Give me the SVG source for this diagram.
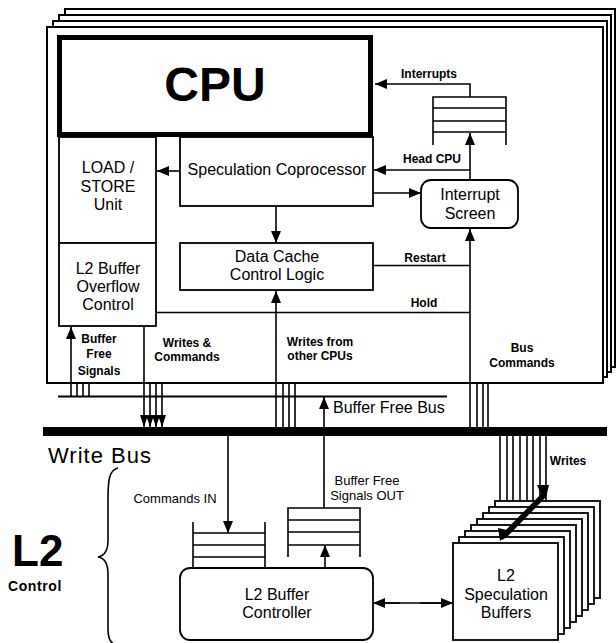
<svg xmlns="http://www.w3.org/2000/svg" width="616" height="643" viewBox="0 0 616 643">
<style>
  .box{fill:#fff;stroke:#000;stroke-width:1.8}
  .ln{fill:none;stroke:#000;stroke-width:1.6}
  .frm{fill:#fff;stroke:#000;stroke-width:2}
  .t{font-family:"Liberation Sans",Arial,sans-serif;font-size:16px;fill:#000;text-anchor:middle}
  .s{font-family:"Liberation Sans",Arial,sans-serif;font-size:12px;font-weight:bold;fill:#000;text-anchor:middle}
  .r{font-family:"Liberation Sans",Arial,sans-serif;font-size:13px;fill:#000;text-anchor:middle}
  .a{marker-end:url(#ah)}
</style>
<defs>
  <marker id="ah" viewBox="0 0 12 10" refX="12" refY="5" markerWidth="12" markerHeight="10" markerUnits="userSpaceOnUse" orient="auto">
    <path d="M0,0 L12,5 L0,10 z" fill="#000"/>
  </marker>
  <marker id="as" viewBox="0 0 12 8" refX="12" refY="4" markerWidth="12" markerHeight="8" markerUnits="userSpaceOnUse" orient="auto">
    <path d="M0,0 L12,4 L0,8 z" fill="#000"/>
  </marker>
</defs>

<g id="cpu-frames">
  <rect class="frm" x="65" y="9" width="550" height="358"/>
  <rect class="frm" x="59" y="15" width="552" height="357"/>
  <rect class="frm" x="53" y="21" width="554" height="356"/>
  <rect class="frm" x="47" y="27" width="556" height="356"/>
</g>

<g id="cpu">
  <rect x="59.5" y="37.5" width="311" height="97" fill="#fff" stroke="#000" stroke-width="5"/>
  <text x="215" y="101" font-family="Liberation Sans,Arial,sans-serif" font-size="48" font-weight="bold" text-anchor="middle">CPU</text>
</g>

<g id="load-store">
  <rect class="box" x="59" y="137" width="97" height="106"/>
  <text class="t" x="108" y="173">LOAD /</text>
  <text class="t" x="108" y="192">STORE</text>
  <text class="t" x="108" y="210">Unit</text>
</g>

<g id="l2-overflow">
  <rect class="box" x="59" y="243" width="97" height="83"/>
  <text class="t" x="108" y="274">L2 Buffer</text>
  <text class="t" x="108" y="292">Overflow</text>
  <text class="t" x="108" y="310">Control</text>
</g>

<g id="spec-coproc">
  <rect class="box" x="180" y="137" width="193" height="69"/>
  <text class="t" x="277" y="175">Speculation Coprocessor</text>
</g>

<g id="data-cache">
  <rect class="box" x="180" y="243" width="193" height="47"/>
  <text class="t" x="277" y="262">Data Cache</text>
  <text class="t" x="277" y="280">Control Logic</text>
</g>

<g id="interrupt-screen">
  <rect class="box" x="421" y="180" width="97" height="48" rx="10"/>
  <text class="t" x="470" y="200">Interrupt</text>
  <text class="t" x="470" y="219">Screen</text>
</g>

<g id="interrupt-queue">
  <path class="ln" d="M433,145 V97 H506 V145 M433,108 H506 M433,121 H506 M433,132 H506"/>
</g>

<g id="buses">
  <line x1="58" y1="396.5" x2="447" y2="396.5" stroke="#000" stroke-width="2.2"/>
  <rect x="43" y="427" width="564" height="9" fill="#000"/>
  <text x="333" y="413" font-family="Liberation Sans,Arial,sans-serif" font-size="16">Buffer Free Bus</text>
  <text x="48" y="463" font-family="Liberation Sans,Arial,sans-serif" font-size="22" letter-spacing="1">Write Bus</text>
</g>

<g id="cmd-queue">
  <path class="ln" d="M193,522 V568 M265,522 V568 M193,533 H265 M193,545 H265 M193,557 H265"/>
</g>

<g id="out-queue">
  <path class="ln" d="M288,557 V508 H360 V557 M288,520 H360 M288,532 H360 M288,545 H360"/>
</g>

<g id="l2-controller">
  <rect class="box" x="180" y="568" width="193" height="72" rx="10"/>
  <text class="t" x="277" y="600">L2 Buffer</text>
  <text class="t" x="277" y="618">Controller</text>
</g>

<g id="spec-buffers">
  <rect class="box" x="495" y="501" width="105" height="97"/>
  <rect class="box" x="489" y="507" width="105" height="97"/>
  <rect class="box" x="483" y="513" width="105" height="97"/>
  <rect class="box" x="477" y="519" width="105" height="97"/>
  <rect class="box" x="471" y="525" width="105" height="97"/>
  <rect class="box" x="465" y="531" width="105" height="97"/>
  <rect class="box" x="459" y="537" width="105" height="97"/>
  <rect class="box" x="453" y="543" width="105" height="97" stroke-width="2.2"/>
  <text class="t" x="506" y="581">L2</text>
  <text class="t" x="506" y="600">Speculation</text>
  <text class="t" x="506" y="618">Buffers</text>
</g>

<g id="l2-label">
  <text x="12" y="566" font-family="Liberation Sans,Arial,sans-serif" font-size="44" font-weight="bold">L2</text>
  <text x="8" y="591" font-family="Liberation Sans,Arial,sans-serif" font-size="14" font-weight="bold" letter-spacing="0.6">Control</text>
  <path class="ln" d="M118,468 C109,470 108,480 108,500 L108,540 C108,552 104,556 98,557 C104,558 108,562 108,574 L108,628 C108,638 110,643 116,645"/>
</g>

<g id="connectors">
  <path class="ln a" d="M470,97 V84 H375"/>
  <path class="ln a" d="M470,180 V133"/>
  <path class="ln a" d="M470,170 H374"/>
  <path class="ln a" d="M373,193 H421"/>
  <path class="ln a" d="M180,171 H157"/>
  <path class="ln a" d="M276,206 V243"/>
  <path class="ln" d="M373,265.5 H470"/>
  <path class="ln" d="M156,312.5 H470"/>
  <path class="ln a" d="M470,427 V229"/>
  <path class="ln" d="M477,383 V427 M483,383 V427 M488,383 V427"/>
  <path class="ln a" d="M276,427 V291"/>
  <path class="ln" d="M283,383 V427 M289,383 V427 M295,383 V427"/>
  <path class="ln a" d="M71,397 V327"/>
  <path class="ln" d="M77,383 V397 M83,383 V397 M89,383 V397"/>
  <path class="ln" d="M144,326 V383"/>
  <path class="ln" d="M144,383 V427" marker-end="url(#as)"/>
  <path class="ln" d="M150,383 V427" marker-end="url(#as)"/>
  <path class="ln" d="M156,383 V427" marker-end="url(#as)"/>
  <path class="ln" d="M162,383 V427" marker-end="url(#as)"/>
  <path class="ln a" d="M228,436 V533"/>
  <path class="ln a" d="M324,508 V397"/>
  <path class="ln a" d="M325,568 V545"/>
  <path class="ln" d="M385,603 H441"/>
  <path class="ln a" d="M420,603 H453"/>
  <path class="ln a" d="M400,603 H373"/>
  <path class="ln" d="M500,436 V501 M507,436 V501 M513,436 V501 M520,436 V501 M527,436 V501 M533,436 V501 M540,436 V501 M546,436 V501"/>
  <path d="M537,485 L549,485 L546,497 L507,537 L502,540 L503,533 L541,494 z" fill="#000"/>
  <path d="M500,541 L498,528 L511,531 z" fill="#000"/>
</g>

<g id="labels">
  <text class="s" x="429" y="78">Interrupts</text>
  <text class="s" x="432" y="163">Head CPU</text>
  <text class="s" x="425" y="262">Restart</text>
  <text class="s" x="424" y="307">Hold</text>
  <text class="s" x="99" y="343">Buffer</text>
  <text class="s" x="99" y="358">Free</text>
  <text class="s" x="99" y="375">Signals</text>
  <text class="s" x="187" y="347">Writes &amp;</text>
  <text class="s" x="187" y="361">Commands</text>
  <text class="s" x="320" y="346">Writes from</text>
  <text class="s" x="320" y="360">other CPUs</text>
  <text class="s" x="522" y="352">Bus</text>
  <text class="s" x="522" y="367">Commands</text>
  <text class="s" x="568" y="465">Writes</text>
  <text class="r" x="175" y="503">Commands IN</text>
  <text class="r" x="367" y="485">Buffer Free</text>
  <text class="r" x="367" y="500">Signals OUT</text>
</g>
</svg>
